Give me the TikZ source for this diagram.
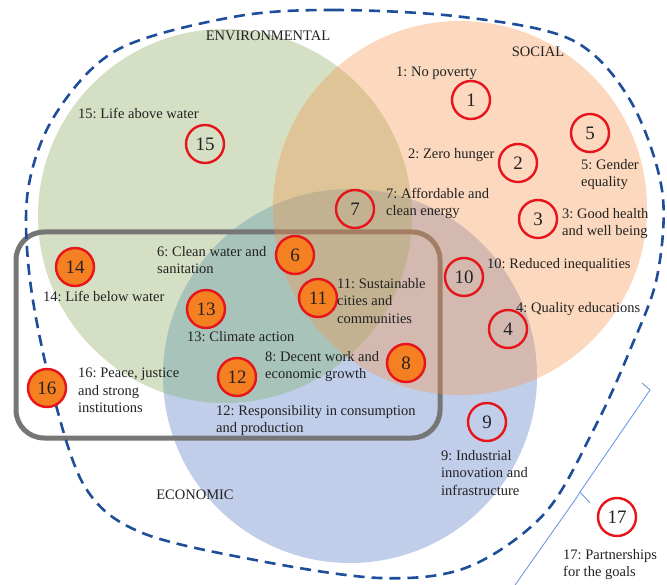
\documentclass[tikz,border=0pt]{standalone}
\usepackage{fontspec}
\setmainfont{Liberation Serif}
\frenchspacing
\definecolor{envgreen}{RGB}{212,223,196}
\definecolor{ecoblue}{RGB}{193,206,234}
\definecolor{envecoblend}{RGB}{168,196,186}
\definecolor{socbase}{RGB}{246,146,69}
\definecolor{boxgray}{RGB}{118,118,118}
\definecolor{dashblue}{RGB}{30,78,154}
\definecolor{goalred}{RGB}{232,20,27}
\definecolor{goalorange}{RGB}{244,128,34}
\definecolor{brace}{RGB}{110,155,225}
\definecolor{ink}{RGB}{34,34,34}
\begin{document}
\begin{tikzpicture}[x=1pt,y=-1pt,
  goal/.style={circle, draw=goalred, line width=2.4pt, minimum size=38pt, inner sep=0pt,
    font=\fontsize{19}{19}\selectfont, text=ink},
  hot/.style={goal, fill=goalorange},
  lbl/.style={anchor=north west, inner sep=0pt, align=left,
    font=\fontsize{14.5}{17.5}\selectfont, text=ink},
  settitle/.style={inner sep=0pt, font=\fontsize{14.5}{17.5}\selectfont, text=ink},
  outline/.style={draw=dashblue, line width=2.6pt, dash pattern=on 11pt off 7pt},
  bracketline/.style={draw=brace, line width=0.9pt},
]
\useasboundingbox (0,0) rectangle (667,585);
\fill[white] (0,0) rectangle (667,585);

% sets
\fill[envgreen] (225,216) circle[radius=187pt];
\fill[ecoblue] (350,376) circle[radius=187pt];
\begin{scope}
  \clip (225,216) circle[radius=187pt];
  \fill[envecoblend] (350,376) circle[radius=187pt];
\end{scope}
% framing box, under the social set
\draw[boxgray, line width=5pt, rounded corners=28pt] (16,232) rectangle (440,438);
\fill[socbase, fill opacity=0.35] (460,208) circle[radius=187pt];

% dashed outline
\draw[outline] plot[smooth cycle, tension=0.55] coordinates {
  (233,17) (333,10) (463,17) (572,40) (630,100) (662,190) (657,277) (630,350)
  (596,425) (545,513) (468,567) (380,578) (255,560) (140,532) (85,487) (52,390)
  (30,280) (28,190) (55,115) (117,50)};

% partnerships brace
\draw[bracketline] (642,383) -- (650,390) -- (580,492) -- (590,503);
\draw[bracketline] (580,492) -- (577,497) -- (513,588);

% set captions
\node[settitle] (cenv) at (268,36) {ENVIRONMENTAL};
\node[settitle] (csoc) at (538,52) {SOCIAL};
\node[settitle] (ceco) at (195,495) {ECONOMIC};

% goals
\node[goal] (g1) at (471,100) {1};
\node[goal] (g2) at (518,163) {2};
\node[goal] (g3) at (538,219) {3};
\node[goal] (g4) at (508,329) {4};
\node[goal] (g5) at (590,133) {5};
\node[hot]  (g6) at (295,255) {6};
\node[goal] (g7) at (355,209) {7};
\node[hot]  (g8) at (406,363) {8};
\node[goal] (g9) at (487,422) {9};
\node[goal] (g10) at (464,277) {10};
\node[hot]  (g11) at (318,298) {11};
\node[hot]  (g12) at (237,377) {12};
\node[hot]  (g13) at (206,309) {13};
\node[hot]  (g14) at (75,267) {14};
\node[goal] (g15) at (205,144) {15};
\node[hot]  (g16) at (47,388) {16};
\node[goal] (g17) at (617,517) {17};

% labels
\node[lbl] (t1) at (396,67) {1: No poverty};
\node[lbl] (t2) at (408,148) {2: Zero hunger};
\node[lbl] (t3) at (562,208) {3: Good health\\and well being};
\node[lbl] (t4) at (516,302) {4: Quality educations};
\node[lbl] (t5) at (581,159) {5: Gender\\equality};
\node[lbl] (t6) at (157,246) {6: Clean water and\\sanitation};
\node[lbl] (t7) at (386,188) {7: Affordable and\\clean energy};
\node[lbl] (t8) at (265,351) {8: Decent work and\\economic growth};
\node[lbl] (t9) at (441,450) {9: Industrial\\innovation and\\infrastructure};
\node[lbl] (t10) at (487,258) {10: Reduced inequalities};
\node[lbl] (t11) at (337,278) {11: Sustainable\\cities and\\communities};
\node[lbl] (t12) at (216,405) {12: Responsibility in consumption\\and production};
\node[lbl] (t13) at (187,331) {13: Climate action};
\node[lbl] (t14) at (43,291) {14: Life below water};
\node[lbl] (t15) at (78,108) {15: Life above water};
\node[lbl] (t16) at (78,368) {16: Peace, justice\\and strong\\institutions};
\node[lbl] (t17) at (563,549) {17: Partnerships\\for the goals};
\end{tikzpicture}
\end{document}
